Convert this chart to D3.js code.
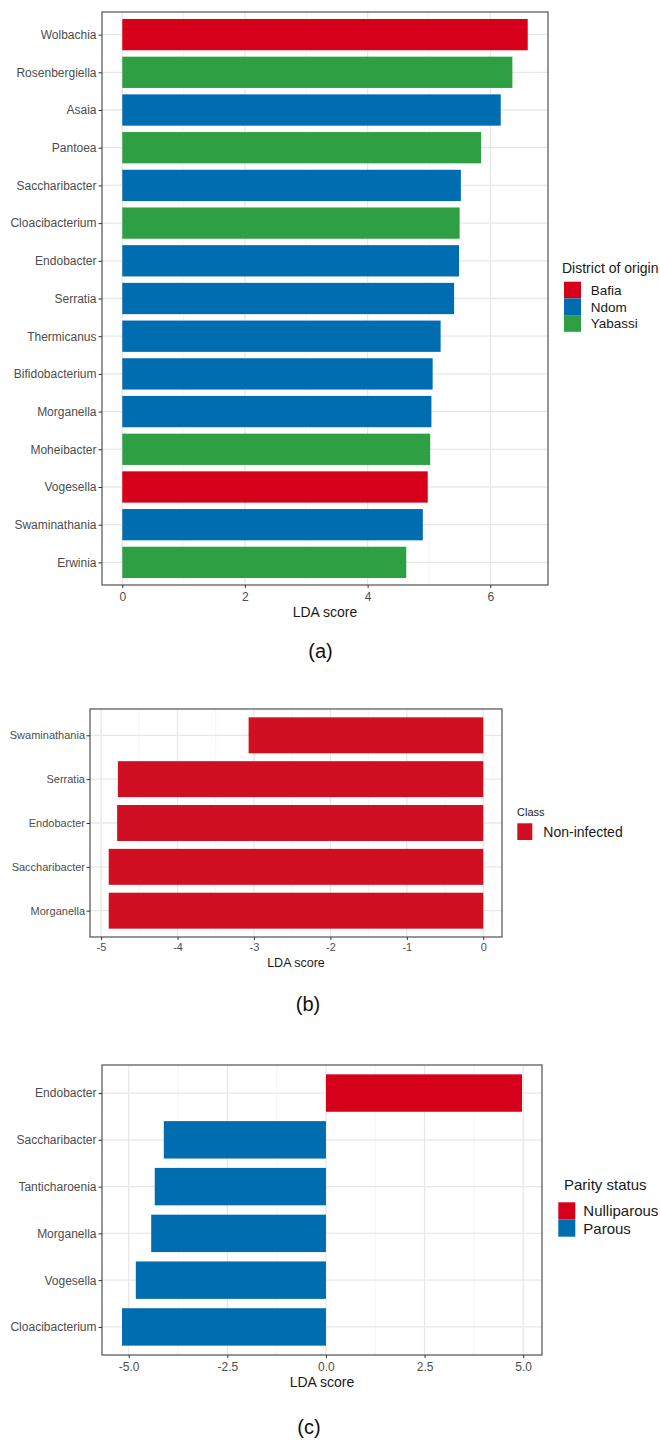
<!DOCTYPE html>
<html>
<head>
<meta charset="utf-8">
<script src="https://cdn.jsdelivr.net/npm/d3@7"></script>
<style>
  html, body { margin: 0; padding: 0; background: #fff; }
  svg { display: block; font-family: "Liberation Sans", Arial, sans-serif; }
</style>
</head>
<body>
<svg id="fig" width="660" height="1440"></svg>
<script>
// ---- Panel (a): discriminant taxa by district of origin ----
const taxaA = ["Wolbachia", "Rosenbergiella", "Asaia", "Pantoea", "Saccharibacter",
  "Cloacibacterium", "Endobacter", "Serratia", "Thermicanus", "Bifidobacterium",
  "Morganella", "Moheibacter", "Vogesella", "Swaminathania", "Erwinia"];
const scoresA = [6.61, 6.36, 6.17, 5.85, 5.52, 5.50, 5.49, 5.41, 5.19, 5.06, 5.04, 5.02, 4.98, 4.90, 4.63];
const groupA = ["Bafia", "Yabassi", "Ndom", "Yabassi", "Ndom", "Yabassi", "Ndom", "Ndom",
  "Ndom", "Ndom", "Ndom", "Yabassi", "Bafia", "Ndom", "Yabassi"];
const levelsA = ["Bafia", "Ndom", "Yabassi"];
const ticksA = [0, 2, 4, 6];

// ---- Panel (b): infection class ----
const taxaB = ["Swaminathania", "Serratia", "Endobacter", "Saccharibacter", "Morganella"];
const scoresB = [-3.07, -4.78, -4.79, -4.90, -4.90];
const groupB = ["Non-infected", "Non-infected", "Non-infected", "Non-infected", "Non-infected"];
const levelsB = ["Non-infected"];
const ticksB = [-5, -4, -3, -2, -1, 0];

// ---- Panel (c): parity status ----
const taxaC = ["Endobacter", "Saccharibacter", "Tanticharoenia", "Morganella", "Vogesella", "Cloacibacterium"];
const scoresC = [4.97, -4.11, -4.34, -4.43, -4.82, -5.17];
const groupC = ["Nulliparous", "Parous", "Parous", "Parous", "Parous", "Parous"];
const levelsC = ["Nulliparous", "Parous"];
const ticksC = [-5, -2.5, 0, 2.5, 5];

const RED = "#d7001a", BLUE = "#006db0", GREEN = "#2ea043", RED_B = "#d10f23";

const svg = d3.select("#fig");
const hyphen = s => s.replace("\u2212", "-");

function drawPanel(cfg) {
  const { taxa, scores, groups, levels, colors, ticks, fmt, box } = cfg;
  const g = svg.append("g");

  // ggplot-style 5% expansion around data range (bars include zero)
  const lo = Math.min(0, d3.min(scores)), hi = Math.max(0, d3.max(scores));
  const pad = (hi - lo) * 0.05;
  const x = d3.scaleLinear().domain([lo - pad, hi + pad]).range([box.left, box.right]);
  const y = d3.scalePoint().domain(taxa).range([box.top, box.bottom]).padding(0.6);
  const color = d3.scaleOrdinal().domain(levels).range(colors);
  const barH = y.step() * cfg.barFrac;

  // panel background
  g.append("rect").attr("x", box.left).attr("y", box.top)
    .attr("width", box.right - box.left).attr("height", box.bottom - box.top)
    .attr("fill", "#fff");

  // minor vertical gridlines halfway between major ticks
  const minor = d3.pairs(ticks).map(([a, b]) => (a + b) / 2);
  g.append("g").selectAll("line").data(minor).join("line")
    .attr("x1", d => x(d)).attr("x2", d => x(d))
    .attr("y1", box.top).attr("y2", box.bottom)
    .attr("stroke", "#f2f2f2").attr("stroke-width", 0.8);

  // major gridlines
  g.append("g").selectAll("line").data(ticks).join("line")
    .attr("x1", d => x(d)).attr("x2", d => x(d))
    .attr("y1", box.top).attr("y2", box.bottom)
    .attr("stroke", "#e8e8e8").attr("stroke-width", 1.3);
  g.append("g").selectAll("line").data(taxa).join("line")
    .attr("x1", box.left).attr("x2", box.right)
    .attr("y1", d => y(d)).attr("y2", d => y(d))
    .attr("stroke", "#e8e8e8").attr("stroke-width", 1.3);

  // bars
  g.append("g").selectAll("rect").data(taxa).join("rect")
    .attr("x", (d, i) => x(Math.min(0, scores[i])))
    .attr("width", (d, i) => Math.abs(x(scores[i]) - x(0)))
    .attr("y", d => y(d) - barH / 2)
    .attr("height", barH)
    .attr("fill", (d, i) => color(groups[i]));

  // panel border
  g.append("rect").attr("x", box.left).attr("y", box.top)
    .attr("width", box.right - box.left).attr("height", box.bottom - box.top)
    .attr("fill", "none").attr("stroke", "#5e5e5e").attr("stroke-width", 1.3);

  // y axis
  const ya = g.append("g").attr("transform", `translate(${box.left},0)`)
    .call(d3.axisLeft(y).tickSize(3.5).tickPadding(cfg.yPad));
  ya.select(".domain").remove();
  ya.selectAll("line").attr("stroke", "#333");
  ya.selectAll("text").attr("fill", "#4d4d4d").attr("font-size", cfg.labelSize)
    .attr("font-family", "Liberation Sans, Arial, sans-serif");

  // x axis
  const xa = g.append("g").attr("transform", `translate(0,${box.bottom})`)
    .call(d3.axisBottom(x).tickValues(ticks).tickSize(3).tickPadding(cfg.xPad)
      .tickFormat(d => hyphen(fmt(d))));
  xa.select(".domain").remove();
  xa.selectAll("line").attr("stroke", "#333");
  xa.selectAll("text").attr("fill", "#4d4d4d").attr("font-size", cfg.labelSize)
    .attr("font-family", "Liberation Sans, Arial, sans-serif");

  // axis title
  g.append("text").attr("x", (box.left + box.right) / 2).attr("y", cfg.titleY)
    .attr("text-anchor", "middle").attr("font-size", cfg.titleSize).attr("fill", "#1a1a1a")
    .text("LDA score");

  // legend
  const L = cfg.legend;
  g.append("text").attr("x", L.titleX).attr("y", L.titleY)
    .attr("font-size", L.titleSize).attr("fill", "#1a1a1a").text(L.title);
  const items = g.append("g").selectAll("g").data(levels).join("g");
  items.append("rect")
    .attr("x", L.keyX).attr("y", (d, i) => L.keyY + i * L.keyH)
    .attr("width", L.keyW).attr("height", L.keyH)
    .attr("fill", d => color(d));
  items.append("text")
    .attr("x", L.textX).attr("y", (d, i) => L.keyY + i * L.keyH + L.keyH / 2)
    .attr("dy", "0.36em").attr("font-size", L.textSize).attr("fill", "#1a1a1a")
    .text(d => d);

  // panel caption
  g.append("text").attr("x", cfg.caption.x).attr("y", cfg.caption.y)
    .attr("text-anchor", "middle").attr("font-size", 20).attr("fill", "#111")
    .text(cfg.caption.text);
}

drawPanel({
  taxa: taxaA, scores: scoresA, groups: groupA, levels: levelsA,
  colors: [RED, BLUE, GREEN], ticks: ticksA, fmt: d3.format("d"),
  box: { left: 102, top: 12, right: 548, bottom: 585 },
  barFrac: 0.83, labelSize: 12, yPad: 2, xPad: 4, titleSize: 14, titleY: 617,
  legend: { title: "District of origin", titleX: 562, titleY: 273, titleSize: 14,
    keyX: 564, keyY: 281.7, keyW: 17, keyH: 16.7, textX: 590.7, textSize: 13.5 },
  caption: { text: "(a)", x: 320.5, y: 658 }
});

drawPanel({
  taxa: taxaB, scores: scoresB, groups: groupB, levels: levelsB,
  colors: [RED_B], ticks: ticksB, fmt: d3.format("d"),
  box: { left: 90, top: 709, right: 502, bottom: 937 },
  barFrac: 0.82, labelSize: 11, yPad: 1.5, xPad: 3, titleSize: 12.5, titleY: 966.5,
  legend: { title: "Class", titleX: 517, titleY: 816, titleSize: 11,
    keyX: 517.3, keyY: 823.3, keyW: 15, keyH: 16.7, textX: 543.3, textSize: 14 },
  caption: { text: "(b)", x: 308, y: 1011 }
});

drawPanel({
  taxa: taxaC, scores: scoresC, groups: groupC, levels: levelsC,
  colors: [RED, BLUE], ticks: ticksC, fmt: d3.format(".1f"),
  box: { left: 102, top: 1065, right: 542, bottom: 1355 },
  barFrac: 0.8, labelSize: 12, yPad: 2, xPad: 4, titleSize: 14, titleY: 1387,
  legend: { title: "Parity status", titleX: 564, titleY: 1189.5, titleSize: 15,
    keyX: 558.3, keyY: 1202.3, keyW: 17, keyH: 17.2, textX: 583.3, textSize: 15 },
  caption: { text: "(c)", x: 309, y: 1434 }
});
</script>
</body>
</html>
